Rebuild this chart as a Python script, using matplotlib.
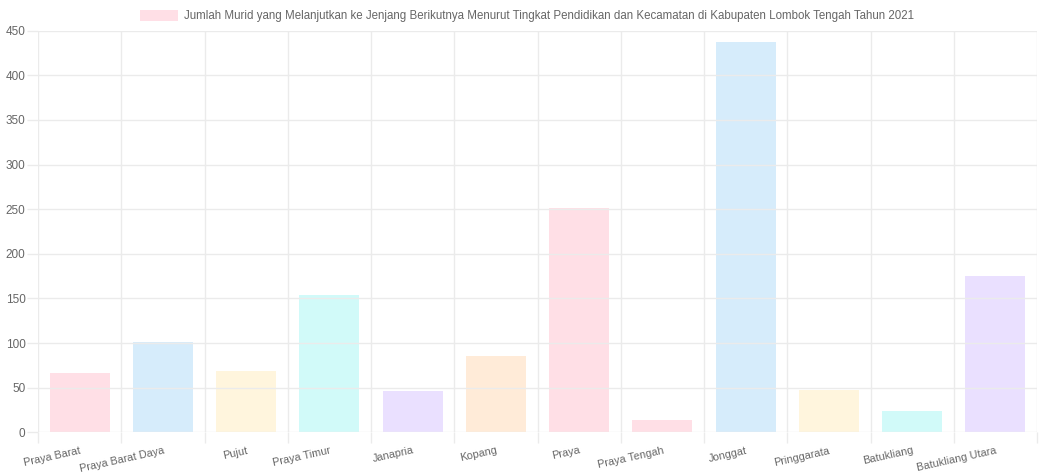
import numpy as np
import matplotlib
matplotlib.use("Agg")
import matplotlib.pyplot as plt
from matplotlib.patches import Rectangle

plt.rcParams['font.family'] = ['Liberation Sans', 'DejaVu Sans']

kecamatan = ["Praya Barat", "Praya Barat Daya", "Pujut", "Praya Timur", "Janapria",
             "Kopang", "Praya", "Praya Tengah", "Jonggat", "Pringgarata",
             "Batukliang", "Batukliang Utara"]
jumlah = [67, 101, 69, 154, 46, 86, 251, 14, 437, 47, 24, 175]
judul = ("Jumlah Murid yang Melanjutkan ke Jenjang Berikutnya Menurut Tingkat "
         "Pendidikan dan Kecamatan di Kabupaten Lombok Tengah Tahun 2021")

# translucent fills, cycled over the bars
warna = [(255, 99, 132), (54, 162, 235), (255, 206, 86), (25, 230, 225),
         (153, 102, 255), (255, 159, 64), (255, 99, 132)]
fills = [tuple(c / 255 for c in warna[i % len(warna)]) + (0.2,) for i in range(len(jumlah))]

grid_c = "#ebebeb"
text_c = "#666666"

fig = plt.figure(figsize=(10.39, 4.74), dpi=100)
ax = fig.add_axes([38 / 1039, 41.7 / 474, 999 / 1039, 401.6 / 474])

x = np.arange(len(kecamatan))
ax.bar(x, jumlah, width=0.72, color=fills, edgecolor="none", zorder=1)
# grid shows through the bars
ax.set_axisbelow(False)

ax.set_xlim(-0.5, len(kecamatan) - 0.5)
ax.set_ylim(0, 450)
ax.set_yticks(np.arange(0, 451, 50))
ax.set_xticks(x)
ax.set_xticks(np.arange(-0.5, len(kecamatan), 1), minor=True)
ax.set_xticklabels(kecamatan, rotation=12.5, ha="right", rotation_mode="anchor",
                   fontsize=7.8, color=text_c)
ax.tick_params(axis="x", which="major", length=0, pad=9.5)
ax.tick_params(axis="x", which="minor", length=8, color=grid_c, width=1)
ax.tick_params(axis="y", length=8, color=grid_c, width=1, pad=1,
               labelsize=8.5, labelcolor=text_c)
ax.grid(True, which="minor", axis="x", color=grid_c, lw=1)
ax.grid(True, which="major", axis="y", color=grid_c, lw=1)
for s in ax.spines.values():
    s.set_visible(False)

# legend box and text across the top
fig.patches.append(Rectangle((140 / 1039, 1 - 21 / 474), 38 / 1039, 11 / 474,
                             transform=fig.transFigure, facecolor=fills[0],
                             edgecolor="none"))
fig.text(184 / 1039, 1 - 15.5 / 474, judul, fontsize=8.3, color=text_c,
         ha="left", va="center")

fig.savefig("out.png", dpi=100)
